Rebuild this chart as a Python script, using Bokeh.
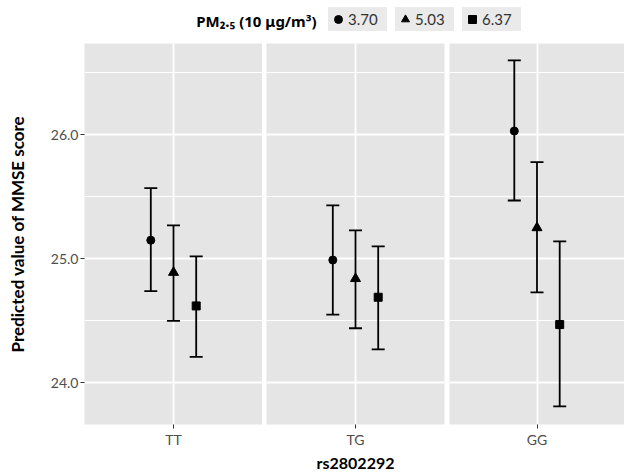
from bokeh.plotting import figure
from bokeh.models import (ColumnDataSource, FactorRange, Range1d, FixedTicker, Legend,
                          LegendItem, Label, Grid, NumeralTickFormatter, CDSView,
                          GroupFilter)
from bokeh.transform import dodge
from bokeh.layouts import row, column
from bokeh.embed import file_html
from bokeh.resources import INLINE

# ---- data ----
genotypes = ["TT", "TG", "GG"]
pm_levels = ["3.70", "5.03", "6.37"]
pm_markers = ["circle", "triangle", "square"]

est_370 = [25.15, 24.99, 26.03]
low_370 = [24.74, 24.55, 25.47]
up_370 = [25.57, 25.43, 26.60]

est_503 = [24.89, 24.84, 25.25]
low_503 = [24.50, 24.44, 24.73]
up_503 = [25.27, 25.23, 25.78]

est_637 = [24.62, 24.69, 24.47]
low_637 = [24.21, 24.27, 23.81]
up_637 = [25.02, 25.10, 25.14]

y_ticks = [24.0, 25.0, 26.0]
y_minor = [23.5, 24.5, 25.5, 26.5]
y_title = "Predicted value of MMSE score"
x_title = "rs2802292"
legend_title = "PM\u2082.\u2085 (10 \u03bcg/m\u00b3)"

series = [
    (est_370, low_370, up_370),
    (est_503, low_503, up_503),
    (est_637, low_637, up_637),
]

# ---- style ----
FONT = "Lato"
PANEL = "#E5E5E5"
DODGE_PX = 22.7
sizes = [8, 10, 8]
Y0, Y1 = 23.664, 26.736

sources = [ColumnDataSource(dict(g=genotypes, est=e, low=l, up=u)) for (e, l, u) in series]

FIG_H = 431
BOTTOM = 50
specs = [  # (genotype, width, min_border_left, min_border_right)
    ("TT", 262, 84, 0),
    ("TG", 183, 4, 1),
    ("GG", 179, 4, 0),
]

figs = []
for i, (gname, w, bl, br) in enumerate(specs):
    frame_w = w - bl - br
    offsets = [-DODGE_PX / frame_w, 0.0, DODGE_PX / frame_w]
    p = figure(width=w, height=FIG_H, x_range=FactorRange(factors=[gname]),
               y_range=Range1d(Y0, Y1), output_backend="svg", toolbar_location=None,
               y_axis_location="left" if i == 0 else None,
               min_border_left=bl, min_border_right=br, min_border_top=0,
               min_border_bottom=BOTTOM)
    p.background_fill_color = PANEL
    p.border_fill_color = "white"
    p.outline_line_color = None

    yt = FixedTicker(ticks=y_ticks, minor_ticks=y_minor)
    if len(p.ygrid) == 0:
        p.add_layout(Grid(dimension=1, ticker=yt))
    p.ygrid.ticker = yt
    p.ygrid.grid_line_color = "white"
    p.ygrid.grid_line_width = 1.8
    p.ygrid.minor_grid_line_color = "white"
    p.ygrid.minor_grid_line_width = 1.0
    p.xgrid.grid_line_color = "white"
    p.xgrid.grid_line_width = 1.8

    xa = p.xaxis[0]
    xa.axis_line_color = None
    xa.major_tick_line_color = "#333333"
    xa.major_tick_out = 4
    xa.major_tick_in = 0
    xa.minor_tick_line_color = None
    xa.major_label_text_font = FONT
    xa.major_label_text_font_size = "14px"
    xa.major_label_text_color = "#4D4D4D"
    xa.major_label_standoff = 2
    if i == 1:
        xa.axis_label = x_title
        xa.axis_label_text_font = FONT
        xa.axis_label_text_font_style = "bold"
        xa.axis_label_text_font_size = "16px"
        xa.axis_label_text_color = "black"
        xa.axis_label_standoff = 2

    if i == 0:
        ya = p.yaxis[0]
        ya.ticker = yt
        ya.formatter = NumeralTickFormatter(format="0.0")
        ya.axis_line_color = None
        ya.major_tick_line_color = "#333333"
        ya.major_tick_out = 4
        ya.major_tick_in = 0
        ya.minor_tick_line_color = None
        ya.major_label_text_font = FONT
        ya.major_label_text_font_size = "14px"
        ya.major_label_text_color = "#4D4D4D"
        ya.major_label_standoff = 2
        ya.axis_label = y_title
        ya.axis_label_text_font = FONT
        ya.axis_label_text_font_style = "bold"
        ya.axis_label_text_font_size = "17px"
        ya.axis_label_text_color = "black"
        ya.axis_label_standoff = 20

    for k, src in enumerate(sources):
        view = CDSView(filter=GroupFilter(column_name="g", group=gname))
        xk = dodge("g", offsets[k], range=p.x_range)
        p.segment(x0=xk, y0="low", x1=xk, y1="up", source=src, view=view,
                  line_color="black", line_width=1.8)
        p.scatter(x=xk, y="up", marker="dash", size=13, source=src, view=view,
                  line_color="black", line_width=1.8)
        p.scatter(x=xk, y="low", marker="dash", size=13, source=src, view=view,
                  line_color="black", line_width=1.8)
        p.scatter(x=xk, y="est", marker=pm_markers[k], size=sizes[k], source=src,
                  view=view, fill_color="black", line_color="black")
    figs.append(p)

# ---- legend strip (its renderers' points fall outside this strip's ranges) ----
lf = figure(width=624, height=43, x_range=Range1d(0, 1), y_range=Range1d(0, 1),
            output_backend="svg", toolbar_location=None,
            x_axis_location=None, y_axis_location=None, min_border=0)
lf.outline_line_color = None
lf.background_fill_color = "white"
lf.border_fill_color = "white"
lf.xgrid.visible = False
lf.ygrid.visible = False
items = []
for k, lvl in enumerate(pm_levels):
    r = lf.scatter(x="est", y="est", source=sources[k],
                   marker=pm_markers[k], fill_color="black", line_color="black")
    items.append(LegendItem(label=lvl, renderers=[r]))
leg = Legend(items=items, orientation="horizontal", location=(328, 12),
             glyph_width=20, glyph_height=22, label_standoff=0, label_width=39,
             label_height=24, spacing=8, padding=0, margin=0,
             border_line_color=None, background_fill_alpha=0,
             item_background_policy="every", item_background_fill_color=PANEL,
             label_text_font=FONT, label_text_font_size="15px",
             label_text_color="#333333", label_text_baseline="middle")
lf.add_layout(leg, "center")
lf.add_layout(Label(x=316, y=23, x_units="screen", y_units="screen", text=legend_title,
                    text_font="Noto Sans", text_font_style="bold", text_font_size="15px",
                    text_align="right", text_baseline="middle", text_color="black"))

layout = column(lf, row(*figs, spacing=0), spacing=0)
open("out.html", "w").write(file_html(layout, INLINE))
